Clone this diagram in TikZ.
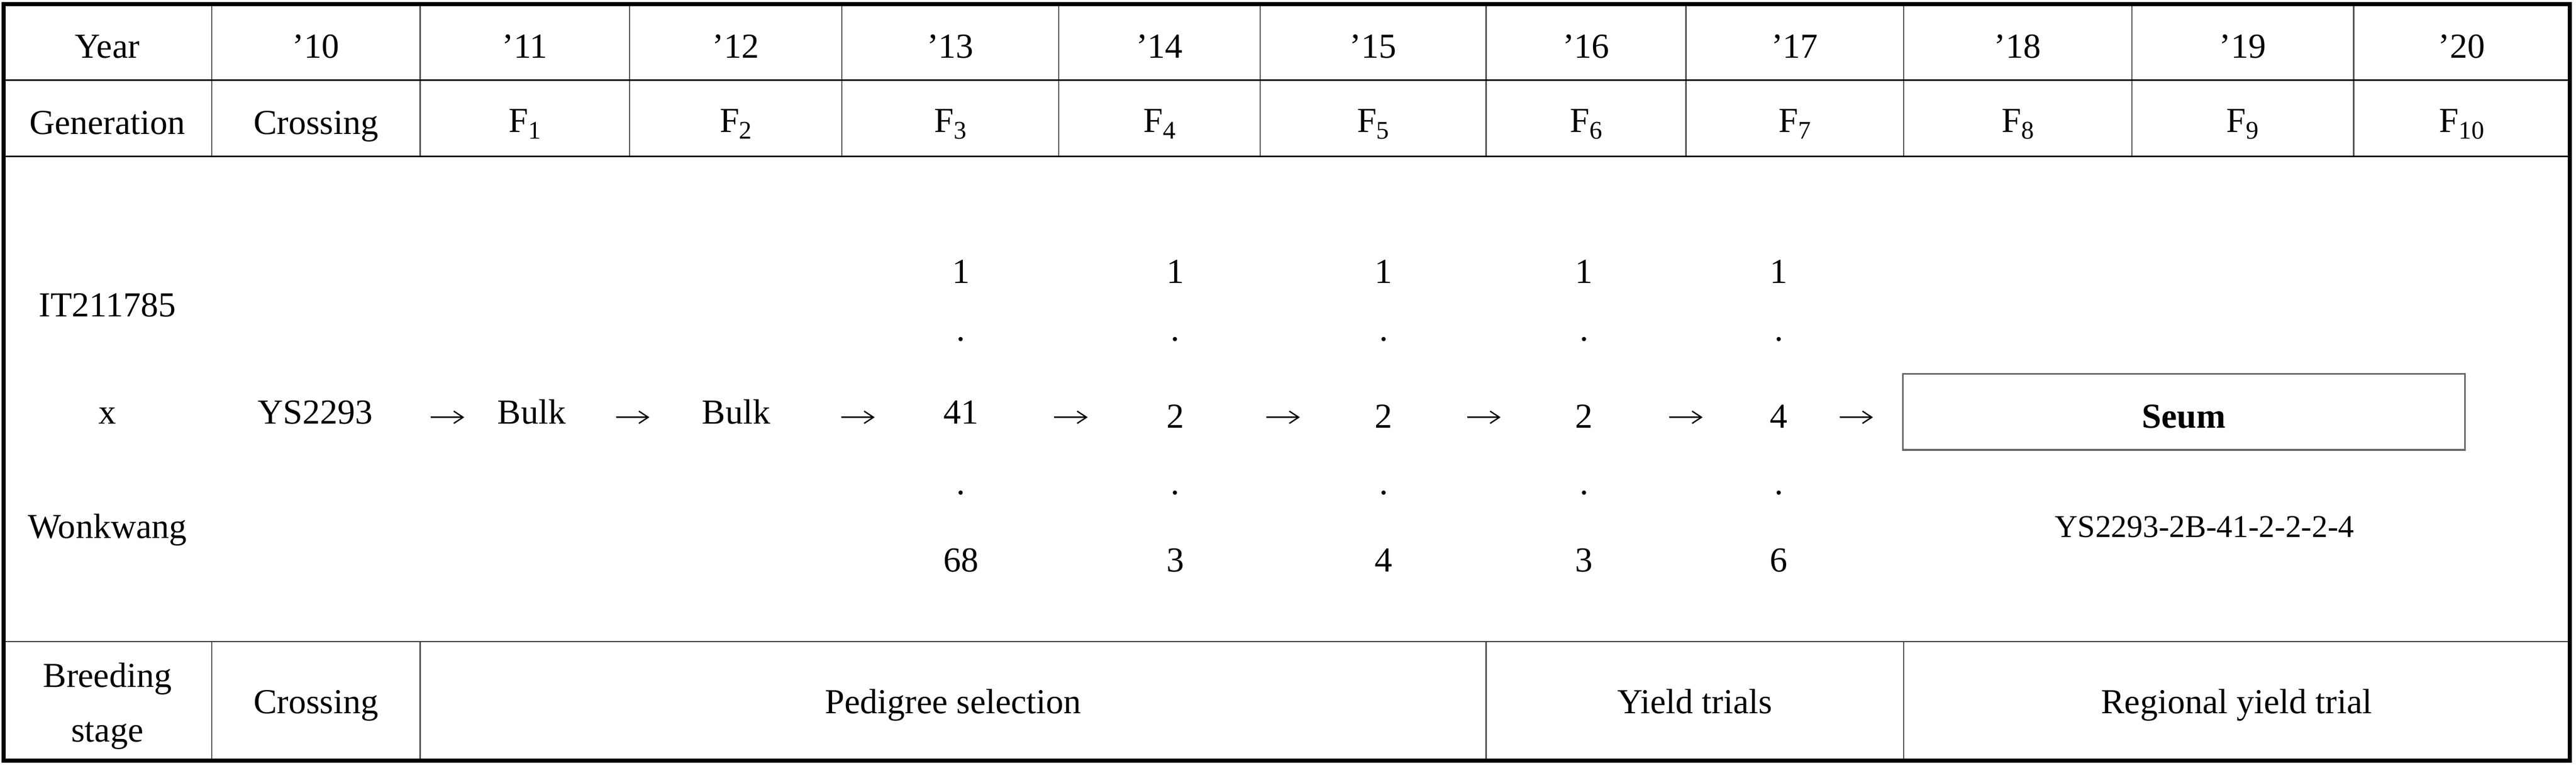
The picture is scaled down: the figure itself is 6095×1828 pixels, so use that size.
\documentclass[tikz,border=0pt]{standalone}
\usepackage{fontspec}
\setmainfont{Liberation Serif}
\usetikzlibrary{arrows.meta}
\newcommand\Fg[1]{F\raisebox{-1.5pt}{\fontsize{6}{6}\selectfont #1}}
\begin{document}
\begin{tikzpicture}[x=0.1pt,y=-0.1pt,
  every node/.style={font=\fontsize{8.3}{10}\selectfont, inner sep=0pt, anchor=base},
  outerline/.style={line width=0.9pt, black},
  hline/.style={line width=0.3pt, black},
  hlinegray/.style={line width=0.3pt, black!80},
  vline/.style={line width=0.28pt, black!70},
  arr/.style={line width=0.32pt, -{Straight Barb[length=2.2pt,width=2.9pt]}},
  seumbox/.style={draw=black!60, line width=0.4pt, minimum width=133pt, minimum height=18pt, anchor=center},
  smalltxt/.style={font=\fontsize{7.5}{9}\selectfont}]
\useasboundingbox (0,0) rectangle (6095,1828);
% grid lines (header part)
\foreach \c in {501,994,1490,1992,2505,2982,3516,3989,4504,5044,5569}
  \draw[vline] (\c,9.5) -- (\c,370);
% grid lines (bottom row)
\foreach \c in {501,994,3516,4504}
  \draw[vline] (\c,1517.5) -- (\c,1799);
\draw[hline] (8.5,189.5) -- (6080.5,189.5);
\draw[hline] (8.5,370) -- (6080.5,370);
\draw[hlinegray] (8.5,1517.5) -- (6080.5,1517.5);
\draw[outerline] (8.5,9.5) rectangle (6080.5,1799);
% header row: year
\node (hyear) at (254,137) {Year};
\node (y10) at (747.5,137) {’10};
\node (y11) at (1242,137) {’11};
\node (y12) at (1741,137) {’12};
\node (y13) at (2248.5,137) {’13};
\node (y14) at (2743.5,137) {’14};
\node (y15) at (3249,137) {’15};
\node (y16) at (3752.5,137) {’16};
\node (y17) at (4246.5,137) {’17};
\node (y18) at (4774,137) {’18};
\node (y19) at (5306.5,137) {’19};
\node (y20) at (5824.5,137) {’20};
% header row: generation
\node (hgen) at (254,318) {Generation};
\node (g0) at (747.5,318) {Crossing};
\node (g1) at (1242,313) {\Fg{1}};
\node (g2) at (1741,313) {\Fg{2}};
\node (g3) at (2248.5,313) {\Fg{3}};
\node (g4) at (2743.5,313) {\Fg{4}};
\node (g5) at (3249,313) {\Fg{5}};
\node (g6) at (3752.5,313) {\Fg{6}};
\node (g7) at (4246.5,313) {\Fg{7}};
\node (g8) at (4774,313) {\Fg{8}};
\node (g9) at (5306.5,313) {\Fg{9}};
\node (g10) at (5824.5,313) {\Fg{10}};
% parents
\node (p1) at (254,749) {IT211785};
\node (px) at (254,1002) {x};
\node (p2) at (254,1273) {Wonkwang};
% main line
\node (ys) at (746,1002) {YS2293};
\node (b1) at (1258,1002) {Bulk};
\node (b2) at (1742,1002) {Bulk};
\node (n13) at (2274,1002) {41};
\node (n14) at (2781,1012) {2};
\node (n15) at (3274,1012) {2};
\node (n16) at (3748,1012) {2};
\node (n17) at (4209,1012) {4};
% ranges
\node (t13) at (2274,670) {1};
\node (d13a) at (2274,806) {.};
\node (d13b) at (2274,1169) {.};
\node (e13) at (2274,1353) {68};
\node (t14) at (2781,670) {1};
\node (d14a) at (2781,806) {.};
\node (d14b) at (2781,1169) {.};
\node (e14) at (2781,1353) {3};
\node (t15) at (3274,670) {1};
\node (d15a) at (3274,806) {.};
\node (d15b) at (3274,1169) {.};
\node (e15) at (3274,1353) {4};
\node (t16) at (3748,670) {1};
\node (d16a) at (3748,806) {.};
\node (d16b) at (3748,1169) {.};
\node (e16) at (3748,1353) {3};
\node (t17) at (4209,670) {1};
\node (d17a) at (4209,806) {.};
\node (d17b) at (4209,1169) {.};
\node (e17) at (4209,1353) {6};
% arrows
\foreach \i/\xc in {1/1059,2/1497,3/2030,4/2534,5/3036,6/3511,7/3989,8/4392}{
  \coordinate (as\i) at (\xc-39.5,987);
  \coordinate (ae\i) at (\xc+39.5,987);
  \draw[arr] (as\i) -- (ae\i);
}
% cultivar
\node[seumbox] (seum) at (5167,974) {};
\node (seumlbl) at (5167,1012) {\bfseries Seum};
\node[smalltxt] (line) at (5216,1271) {YS2293-2B-41-2-2-2-4};
% bottom row
\node (bs1) at (254,1625) {Breeding};
\node (bs2) at (254,1755) {stage};
\node (scross) at (747.5,1688) {Crossing};
\node (sped) at (2255,1688) {Pedigree selection};
\node (syield) at (4010,1688) {Yield trials};
\node (sreg) at (5292,1688) {Regional yield trial};
\end{tikzpicture}
\end{document}
